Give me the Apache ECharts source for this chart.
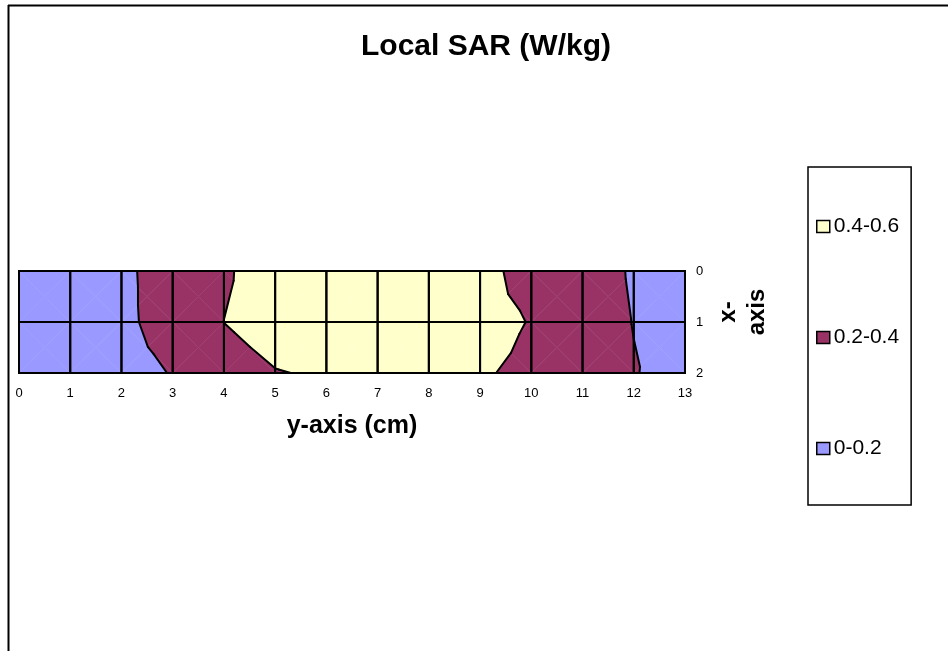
<!DOCTYPE html>
<html>
<head>
<meta charset="utf-8">
<script src="https://cdn.jsdelivr.net/npm/echarts@6/dist/echarts.min.js"></script>
<style>
  html, body { margin: 0; padding: 0; background: #fff; }
  #chart { width: 948px; height: 651px; }
</style>
</head>
<body>
<div id="chart"></div>
<script>
// horizontal axis positions (cm) and vertical axis rows
const yCols = [0, 1, 2, 3, 4, 5, 6, 7, 8, 9, 10, 11, 12, 13]
const xRows = [0, 1, 2]

// local SAR (W/kg) at each grid point, one array per row
const sarRow0 = [0.12, 0.14, 0.17, 0.268, 0.38, 0.48, 0.50, 0.52, 0.50, 0.45, 0.34, 0.30, 0.18, 0.14]
const sarRow1 = [0.12, 0.14, 0.17, 0.258, 0.401, 0.47, 0.50, 0.51, 0.50, 0.44, 0.395, 0.30, 0.195, 0.15]
const sarRow2 = [0.10, 0.12, 0.16, 0.205, 0.33, 0.393, 0.416, 0.44, 0.44, 0.41, 0.378, 0.30, 0.21, 0.12]

const bandNames = ['0.4-0.6', '0.2-0.4', '0-0.2']
const bandLow = [0.4, 0.2, 0]
const bandHigh = [0.6, 0.4, 0.2]
const bandColors = ['#FFFFCC', '#993366', '#9999FF']
const contourLevels = [0.2, 0.4]

const sar = [sarRow0, sarRow1, sarRow2]
const FONT = '"Liberation Sans", Arial, sans-serif'

// cells as [col, row]
const cells = []
for (let r = 0; r < xRows.length - 1; r++) {
  for (let c = 0; c < yCols.length - 1; c++) cells.push([c, r])
}

// each cell is split into 4 triangles around its centre (centre = mean of corners)
function cellTriangles (c, r) {
  const x0 = yCols[c], x1 = yCols[c + 1], y0 = xRows[r], y1 = xRows[r + 1]
  const a = [x0, y0, sar[r][c]]
  const b = [x1, y0, sar[r][c + 1]]
  const d = [x1, y1, sar[r + 1][c + 1]]
  const e = [x0, y1, sar[r + 1][c]]
  const m = [(x0 + x1) / 2, (y0 + y1) / 2, (a[2] + b[2] + d[2] + e[2]) / 4]
  return [[a, b, m], [b, d, m], [d, e, m], [e, a, m]]
}

function lerp (p, q, t) {
  return [p[0] + (q[0] - p[0]) * t, p[1] + (q[1] - p[1]) * t, p[2] + (q[2] - p[2]) * t]
}

// keep the part of poly where f(p) >= 0
function clip (poly, f) {
  const out = []
  for (let i = 0; i < poly.length; i++) {
    const p = poly[i], q = poly[(i + 1) % poly.length]
    const fp = f(p), fq = f(q)
    if (fp >= 0) out.push(p)
    if ((fp >= 0) !== (fq >= 0)) out.push(lerp(p, q, fp / (fp - fq)))
  }
  return out
}

function bandSeries (k) {
  return {
    name: bandNames[k],
    type: 'custom',
    itemStyle: { color: bandColors[k] },
    encode: { x: 0, y: 1 },
    data: cells,
    z: 2,
    renderItem: function (params, api) {
      const c = api.value(0), r = api.value(1)
      const children = []
      cellTriangles(c, r).forEach(function (tri) {
        let poly = clip(tri, function (p) { return p[2] - bandLow[k] })
        if (poly.length >= 3) poly = clip(poly, function (p) { return bandHigh[k] - p[2] })
        if (poly.length < 3) return
        children.push({
          type: 'polygon',
          shape: { points: poly.map(function (p) { return api.coord([p[0], p[1]]) }) },
          style: { fill: bandColors[k], stroke: bandColors[k], lineWidth: 0.5 }
        })
      })
      return { type: 'group', children: children }
    }
  }
}

const linesSeries = {
  name: 'lines',
  type: 'custom',
  encode: { x: 0, y: 1 },
  data: cells,
  z: 5,
  silent: true,
  renderItem: function (params, api) {
    const c = api.value(0), r = api.value(1)
    const children = []
    const p0 = api.coord([yCols[c], xRows[r]])
    const p1 = api.coord([yCols[c + 1], xRows[r + 1]])
    children.push({
      type: 'rect',
      shape: { x: p0[0], y: p0[1], width: p1[0] - p0[0], height: p1[1] - p0[1] },
      style: { fill: null, stroke: '#000', lineWidth: 2 }
    })
    cellTriangles(c, r).forEach(function (tri) {
      contourLevels.forEach(function (lv) {
        const pts = []
        for (let i = 0; i < 3; i++) {
          const p = tri[i], q = tri[(i + 1) % 3]
          const fp = p[2] - lv, fq = q[2] - lv
          if ((fp >= 0) !== (fq >= 0)) pts.push(lerp(p, q, fp / (fp - fq)))
        }
        if (pts.length === 2) {
          children.push({
            type: 'polyline',
            shape: { points: pts.map(function (p) { return api.coord([p[0], p[1]]) }) },
            style: { stroke: '#000', lineWidth: 2, fill: null, lineCap: 'round' }
          })
        }
      })
    })
    return { type: 'group', children: children }
  }
}

const chart = echarts.init(document.getElementById('chart'), null, { renderer: 'canvas' })

chart.setOption({
  animation: false,
  backgroundColor: '#fff',
  title: {
    text: 'Local SAR (W/kg)',
    left: 481,
    textAlign: 'center',
    top: 27,
    textStyle: { fontFamily: FONT, fontWeight: 'bold', fontSize: 30, color: '#000' }
  },
  legend: {
    data: bandNames,
    orient: 'vertical',
    left: 808,
    top: 167,
    padding: [49, 12, 46, 8],
    itemGap: 90,
    itemWidth: 13,
    itemHeight: 12,
    icon: 'rect',
    borderColor: '#000',
    borderWidth: 1.5,
    itemStyle: { borderColor: '#000', borderWidth: 1.5 },
    textStyle: { fontFamily: FONT, fontSize: 21, lineHeight: 21, color: '#000', padding: [0, 0, 0, -1] }
  },
  grid: { left: 19, top: 271, width: 666, height: 102 },
  xAxis: {
    type: 'value',
    min: 0,
    max: 13,
    interval: 1,
    name: 'y-axis (cm)',
    nameLocation: 'middle',
    nameGap: 41,
    nameTextStyle: { fontFamily: FONT, fontWeight: 'bold', fontSize: 25, color: '#000' },
    axisLine: { lineStyle: { color: '#000', width: 2 } },
    axisTick: { length: 6, lineStyle: { color: '#000', width: 2 } },
    axisLabel: { fontFamily: FONT, fontSize: 13, color: '#000', margin: 14 },
    splitLine: { show: false }
  },
  yAxis: {
    type: 'value',
    min: 0,
    max: 2,
    interval: 1,
    inverse: true,
    position: 'right',
    name: 'x-\naxis',
    nameLocation: 'middle',
    nameRotate: 90,
    nameGap: 28,
    nameTextStyle: { fontFamily: FONT, fontWeight: 'bold', fontSize: 24, color: '#000', lineHeight: 29, padding: [0, 0, 0, 20] },
    axisLine: { lineStyle: { color: '#000', width: 2 } },
    axisTick: { length: 6, lineStyle: { color: '#000', width: 2 } },
    axisLabel: { fontFamily: FONT, fontSize: 13, color: '#000', margin: 11 },
    splitLine: { show: false }
  },
  graphic: [
    { type: 'line', shape: { x1: 8.5, y1: 5, x2: 8.5, y2: 651 }, style: { stroke: '#000', lineWidth: 2 } },
    { type: 'line', shape: { x1: 8, y1: 5.5, x2: 948, y2: 5.5 }, style: { stroke: '#000', lineWidth: 2 } }
  ],
  series: [bandSeries(0), bandSeries(1), bandSeries(2), linesSeries]
})
</script>
</body>
</html>
